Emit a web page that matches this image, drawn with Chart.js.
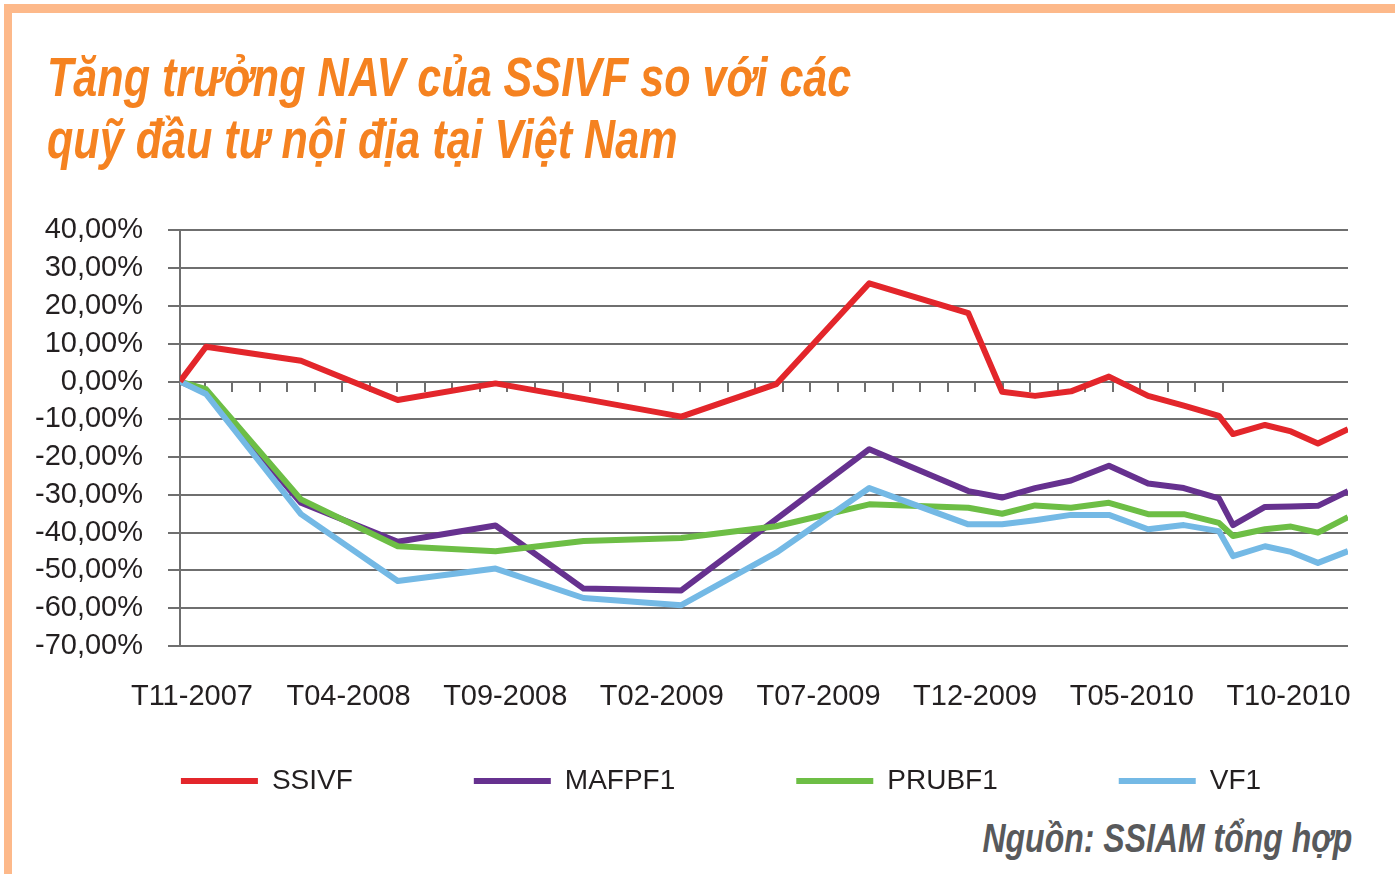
<!DOCTYPE html>
<html>
<head>
<meta charset="utf-8">
<script src="https://cdn.jsdelivr.net/npm/chart.js@4.4.0/dist/chart.umd.min.js"></script>
<style>
  html, body { margin: 0; padding: 0; background: #fff; }
  body { width: 1395px; height: 874px; position: relative; overflow: hidden; font-family: "Liberation Sans", Arial, sans-serif; }
  .frame-top { position: absolute; left: 4px; top: 4px; width: 1391px; height: 9px; background: #fdb98a; }
  .frame-left { position: absolute; left: 4px; top: 4px; width: 8px; height: 870px; background: #fdb98a; }
  #title { position: absolute; left: 47px; top: 46px; color: #f58220; font: italic bold 56px/62px "Liberation Sans", Arial, sans-serif; transform: scaleX(0.77); transform-origin: 0 0; white-space: nowrap; }
  #source { position: absolute; right: 43px; top: 814px; color: #58595b; font: italic bold 40px/48px "Liberation Sans", Arial, sans-serif; transform: scaleX(0.8); transform-origin: 100% 0; white-space: nowrap; }
  #wrap { position: absolute; left: 36px; top: 188px; width: 1370px; height: 617px; }
</style>
</head>
<body>
<div class="frame-top"></div>
<div class="frame-left"></div>
<div id="title">Tăng trưởng NAV của SSIVF so với các<br>quỹ đầu tư nội địa tại Việt Nam</div>
<div id="wrap"><canvas id="navChart"></canvas></div>
<div id="source">Nguồn: SSIAM tổng hợp</div>

<script>
// months counted from T11-2007 (0 = T11-2007)
const months = [-0.38, 0.45, 3.48, 6.57, 9.69, 12.5, 15.62, 18.65, 21.62, 24.78, 25.86,
                26.91, 28.06, 29.27, 30.52, 31.66, 32.78, 33.23, 34.25, 35.08, 35.94, 36.9];

// NAV growth, %
const ssivf  = [0, 9.2, 5.5, -4.9, -0.5, -4.6, -9.3, -0.7, 26.0, 18.1, -2.7,
                -3.8, -2.6, 1.3, -3.8, -6.4, -9.1, -13.9, -11.5, -13.2, -16.4, -12.6];
const mafpf1 = [0, -2.9, -32.1, -42.4, -38.1, -54.8, -55.3, -36.4, -17.9, -29.0, -30.7,
                -28.2, -26.2, -22.3, -27.0, -28.2, -30.9, -38.0, -33.2, -33.1, -32.9, -29.0];
const prubf1 = [0, -2.0, -31.2, -43.6, -44.9, -42.2, -41.4, -38.3, -32.5, -33.4, -35.0,
                -32.8, -33.4, -32.1, -35.1, -35.1, -37.4, -40.9, -39.1, -38.4, -40.0, -35.9];
const vf1    = [0, -3.3, -35.1, -52.8, -49.5, -57.3, -59.2, -45.3, -28.2, -37.8, -37.8,
                -36.7, -35.3, -35.3, -39.1, -38.0, -39.6, -46.2, -43.6, -45.1, -48.0, -44.9];

const seriesNames = ['SSIVF', 'MAFPF1', 'PRUBF1', 'VF1'];
const seriesColors = ['#e3262b', '#66318f', '#6dbe45', '#74b9e5'];
const xTickLabels = ['T11-2007', 'T04-2008', 'T09-2008', 'T02-2009', 'T07-2009', 'T12-2009', 'T05-2010', 'T10-2010'];

const xMin = -0.38, xMax = 36.9;
// small tick marks hanging from the 0% line
const zeroTickStart = 0.415, zeroTickStep = 0.878, zeroTickCount = 38;

const gridGrey = '#6f6f6f';
const textColor = '#231f20';

function pct(v) {
    return v.toFixed(2).replace('.', ',') + '%';
}

const allSeries = [ssivf, mafpf1, prubf1, vf1];
const drawOrder = [1, 4, 3, 2];

const datasets = allSeries.map((vals, i) => ({
    label: seriesNames[i],
    data: months.map((m, j) => ({ x: m, y: vals[j] })),
    borderColor: seriesColors[i],
    backgroundColor: seriesColors[i],
    borderWidth: 6,
    pointRadius: 0,
    tension: 0,
    borderJoinStyle: 'round',
    order: drawOrder[i]
}));

new Chart(document.getElementById('navChart'), {
    type: 'line',
    data: { datasets },
    options: {
        responsive: true,
        maintainAspectRatio: false,
        animation: false,
        layout: { padding: { left: 0, right: 0, top: 17, bottom: 0 } },
        plugins: {
            tooltip: { enabled: false },
            legend: {
                position: 'bottom',
                labels: {
                    boxWidth: 77,
                    boxHeight: 6,
                    padding: 121,
                    color: textColor,
                    font: { family: 'Liberation Sans', size: 28 },
                    sort: (a, b) => a.datasetIndex - b.datasetIndex,
                    generateLabels(chart) {
                        const items = Chart.defaults.plugins.legend.labels.generateLabels(chart);
                        items.forEach(it => { it.lineWidth = 0; });
                        return items;
                    }
                }
            }
        },
        scales: {
            x: {
                type: 'linear',
                position: { y: -70 },
                min: xMin,
                max: xMax,
                grid: { display: false, drawTicks: false },
                border: { display: false },
                ticks: {
                    stepSize: 5,
                    includeBounds: false,
                    autoSkip: false,
                    maxRotation: 0,
                    padding: 34,
                    color: textColor,
                    font: { family: 'Liberation Sans', size: 29 },
                    callback: v => xTickLabels[Math.round(v / 5)] || ''
                }
            },
            x0: {
                type: 'linear',
                position: { y: 0 },
                min: xMin,
                max: xMax,
                grid: { drawOnChartArea: false, drawTicks: true, tickLength: 10, color: gridGrey, lineWidth: 2 },
                border: { display: false },
                ticks: { display: false },
                afterBuildTicks: s => {
                    const t = [];
                    for (let k = 0; k < zeroTickCount; k++) t.push({ value: zeroTickStart + k * zeroTickStep });
                    s.ticks = t;
                }
            },
            y: {
                min: -70,
                max: 40,
                ticks: {
                    stepSize: 10,
                    autoSkip: false,
                    padding: 25,
                    color: textColor,
                    font: { family: 'Liberation Sans', size: 29 },
                    callback: v => pct(v)
                },
                grid: { color: gridGrey, lineWidth: 2, tickLength: 12 },
                border: { color: gridGrey, width: 2 },
                afterFit: s => { s.width = 144; }
            },
            yRight: {
                position: 'right',
                grid: { display: false },
                border: { display: false },
                ticks: { display: false },
                afterFit: s => { s.width = 58; }
            }
        }
    }
});
</script>
</body>
</html>
